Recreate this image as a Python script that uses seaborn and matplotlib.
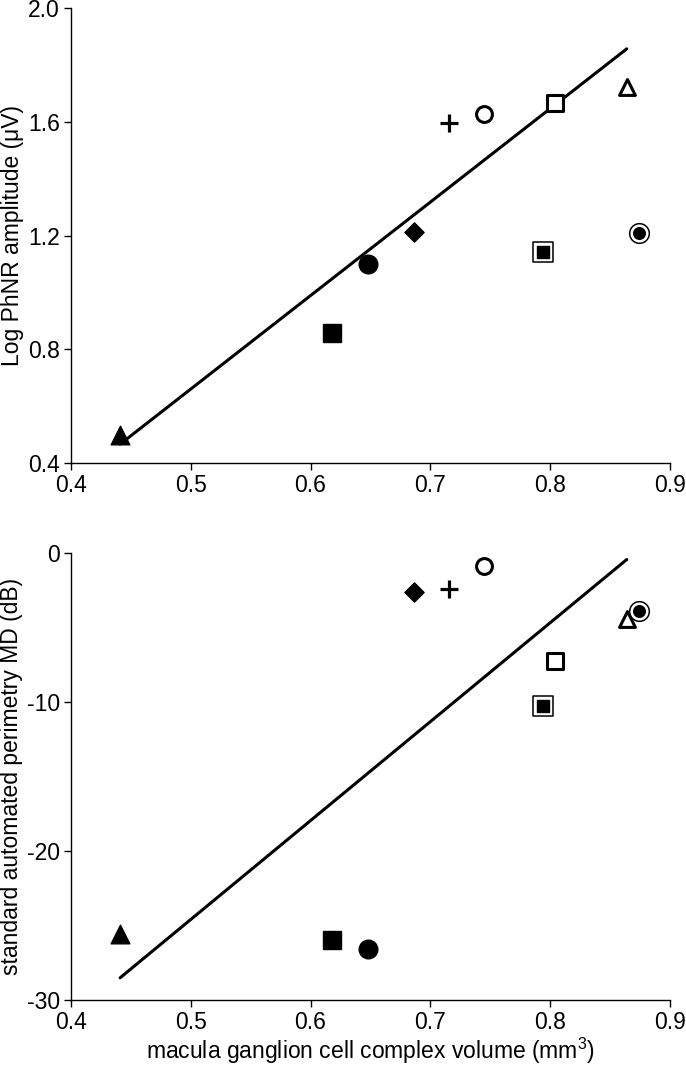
import pandas as pd
import seaborn as sb
import matplotlib.pyplot as plt

# one row per eye, same marker in both panels
markers = ['tri_f', 'sq_f', 'circ_f', 'diam_f', 'plus', 'circ_o', 'sq_dbl', 'sq_o', 'tri_o', 'circ_dbl']
gcc_volume = [0.441, 0.618, 0.648, 0.686, 0.716, 0.745, 0.794, 0.804, 0.864, 0.874]
log_phnr = [0.50, 0.857, 1.10, 1.212, 1.596, 1.629, 1.142, 1.665, 1.724, 1.209]
sap_md = [-25.6, -26.0, -26.6, -2.6, -2.4, -0.9, -10.25, -7.25, -4.4, -3.9]
# the two double-outlined eyes are left out of the regression
in_fit = [True, True, True, True, True, True, False, True, True, False]

x_ticks = [0.4, 0.5, 0.6, 0.7, 0.8, 0.9]
phnr_ticks = [0.4, 0.8, 1.2, 1.6, 2.0]
md_ticks = [-30, -20, -10, 0]

df = pd.DataFrame({'marker': markers, 'gcc': gcc_volume, 'phnr': log_phnr,
                   'md': sap_md, 'fit': in_fit})

sb.set_style('ticks')
plt.rcParams['font.family'] = ['Liberation Sans', 'DejaVu Sans']
plt.rcParams['mathtext.fontset'] = 'custom'
plt.rcParams['mathtext.rm'] = 'Liberation Sans'
plt.rcParams['axes.unicode_minus'] = False
plt.rcParams['text.color'] = 'black'
plt.rcParams['axes.labelcolor'] = 'black'
plt.rcParams['xtick.color'] = 'black'
plt.rcParams['ytick.color'] = 'black'

FS = 16.5

# marker -> (mpl marker, size, face, edge, edge width)
styles = {
    'tri_f': [('^', 180, 'black', 'black', 1.0)],
    'sq_f': [('s', 180, 'black', 'black', 1.0)],
    'circ_f': [('o', 180, 'black', 'black', 1.0)],
    'diam_f': [('D', 95, 'black', 'black', 1.0)],
    'plus': [('+', 170, 'black', 'black', 2.3)],
    'circ_o': [('o', 130, 'white', 'black', 2.2)],
    'sq_o': [('s', 130, 'white', 'black', 2.2)],
    'tri_o': [('^', 130, 'white', 'black', 2.2)],
    'sq_dbl': [('s', 190, 'white', 'black', 1.1), ('s', 75, 'black', 'black', 1.0)],
    'circ_dbl': [('o', 200, 'white', 'black', 1.1), ('o', 70, 'black', 'black', 1.0)],
}


def draw_panel(ax, ycol, ylim, yticks, ylabel, fmt):
    sb.regplot(data=df[df['fit']], x='gcc', y=ycol, ax=ax, scatter=False,
               ci=None, truncate=True, color='black', line_kws={'lw': 2.2})
    for m in markers:
        sub = df[df['marker'] == m]
        for mk, s, fc, ec, lw in styles[m]:
            if mk == '+':
                sb.scatterplot(data=sub, x='gcc', y=ycol, ax=ax, marker=mk, s=s,
                               color=ec, linewidth=lw, zorder=3)
            else:
                sb.scatterplot(data=sub, x='gcc', y=ycol, ax=ax, marker=mk, s=s,
                               facecolor=fc, edgecolor=ec, linewidth=lw, zorder=3)
    ax.set_xlim(0.4, 0.9)
    ax.set_ylim(*ylim)
    ax.set_xticks(x_ticks)
    ax.set_xticklabels([f'{t:.1f}' for t in x_ticks])
    ax.set_yticks(yticks)
    ax.set_yticklabels([fmt.format(t) for t in yticks])
    ax.set_ylabel(ylabel, fontsize=FS, labelpad=3)
    ax.set_xlabel('')
    ax.tick_params(labelsize=FS, length=5, width=1, colors='black', direction='out', pad=3)
    for side in ['left', 'bottom']:
        ax.spines[side].set_color('black')
        ax.spines[side].set_linewidth(1)
    sb.despine(ax=ax)


fig = plt.figure(figsize=(6.86, 10.70), dpi=100)
ax1 = fig.add_axes([0.1035, 0.5673, 0.873, 0.4252])
ax2 = fig.add_axes([0.1035, 0.0654, 0.873, 0.4178])

draw_panel(ax1, 'phnr', (0.4, 2.0), phnr_ticks, 'Log PhNR amplitude (μV)', '{:.1f}')
draw_panel(ax2, 'md', (-30, 0), md_ticks, 'standard automated perimetry MD (dB)', '{:d}')
ax2.set_xlabel('macula ganglion cell complex volume (mm$^3$)', fontsize=FS, labelpad=1)

for ax in (ax1, ax2):
    for c in ax.collections:
        c.set_clip_on(False)

plt.savefig('out.png', dpi=100)
